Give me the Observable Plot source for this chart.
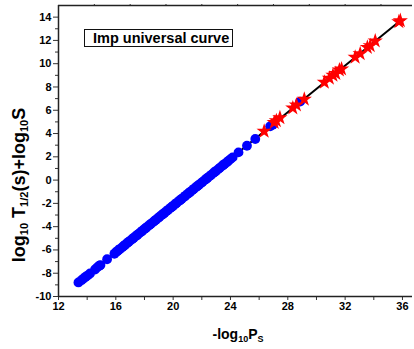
<!DOCTYPE html>
<html><head><meta charset="utf-8">
<script src="https://cdn.jsdelivr.net/npm/d3@7"></script>
<script src="https://cdn.jsdelivr.net/npm/@observablehq/plot@0.6"></script>
<style>
html,body{margin:0;padding:0;background:#fff;}
#chart{position:relative;width:414px;height:349px;font-family:"Liberation Sans",Arial,sans-serif;}
#legend{position:absolute;left:84px;top:29px;width:149px;height:18px;box-sizing:border-box;border:1.3px solid #111;font-weight:bold;font-size:14.5px;line-height:16px;padding-left:8px;white-space:nowrap;color:#000;}
</style>
</head><body>
<div id="chart"><div id="legend">Imp universal curve</div></div>
<script>
// blue circles (-log10 Ps, log10 T1/2 + log10 S)
const blueX = [13.39,13.6,13.75,13.9,14.05,14.2,14.55,14.7,14.85,14.93,
  15.39,
  15.9,16.0,16.1,16.2,16.3,16.45,16.55,16.65,16.8,16.9,17.0,17.15,17.25,17.4,17.5,17.6,17.75,17.85,18.0,18.1,18.2,18.35,18.45,18.6,18.7,18.8,18.95,19.05,19.2,19.3,19.4,19.55,19.65,19.8,19.9,20.0,20.15,20.25,20.4,20.5,20.6,20.75,20.85,21.0,21.1,21.2,21.35,21.45,21.6,21.7,21.8,21.95,22.05,22.2,22.3,22.4,22.55,22.65,22.8,22.9,23.0,23.15,23.25,23.4,23.5,23.6,23.75,23.85,24.0,24.15,
  24.56,25.15,25.73,26.77,26.95,28.86];
const blueY = [-8.79,-8.6,-8.45,-8.3,-8.18,-8.02,-7.68,-7.5,-7.36,-7.3,
  -6.8,
  -6.33,-6.2,-6.12,-6.0,-5.9,-5.77,-5.66,-5.55,-5.41,-5.3,-5.2,-5.06,-4.95,-4.8,-4.71,-4.6,-4.46,-4.35,-4.2,-4.11,-4.0,-3.86,-3.75,-3.61,-3.5,-3.4,-3.26,-3.15,-3.0,-2.91,-2.8,-2.66,-2.55,-2.4,-2.31,-2.2,-2.06,-1.95,-1.8,-1.71,-1.6,-1.46,-1.35,-1.2,-1.11,-1.0,-0.86,-0.75,-0.6,-0.51,-0.4,-0.26,-0.15,0.0,0.09,0.2,0.34,0.45,0.6,0.69,0.8,0.94,1.05,1.2,1.29,1.4,1.54,1.65,1.8,1.95,
  2.38,2.95,3.53,4.62,4.75,6.74];
// red stars
const redX = [26.35,27.05,27.2,27.45,28.35,28.6,29.15,30.55,30.9,31.15,31.35,31.6,31.75,32.7,33.05,33.55,33.75,34.1,35.75,35.85];
const redY = [4.19,4.95,5.1,5.35,6.2,6.45,6.95,8.4,8.75,9.0,9.15,9.45,9.55,10.55,10.85,11.4,11.55,11.95,13.6,13.7];
// fitted line end points
const lineX = [13.39, 35.8];
const lineY = [-8.79, 13.64];
// ticks
const xMajor = [12,16,20,24,28,32,36];
const xMinor = [14,18,22,26,30,34];
const xTop = [14.5,17,19.5,22,24.5,27,29.5,32,34.5];
const yMajor = [-10,-8,-6,-4,-2,0,2,4,6,8,10,12,14];
const yMinor = [-9,-7,-5,-3,-1,1,3,5,7,9,11,13];
const legendText = "Imp universal curve";

const blue = blueX.map((x,i)=>({x, y: blueY[i]}));
const red = redX.map((x,i)=>({x, y: redY[i]}));
const line = lineX.map((x,i)=>({x, y: lineY[i]}));

const font = {fontWeight:"bold", fontSize:11, fill:"#000"};
const none = () => "";
const plot = Plot.plot({
  width: 414, height: 349,
  marginLeft: 58, marginRight: 2, marginTop: 5, marginBottom: 53,
  style: {fontFamily: "'Liberation Sans', Arial, sans-serif", background: "#fff", color: "#000"},
  x: {domain: [12, 36.7]},
  y: {domain: [-10, 15]},
  marks: [
    Plot.axisX({ticks: xMajor, tickSize: 4, tickPadding: 2, tickFormat: d => String(d), label: null, stroke: "#333", ...font}),
    Plot.axisX({ticks: xMinor, tickSize: 4, tickFormat: none, label: null, stroke: "#333"}),
    Plot.axisX({anchor: "top", ticks: xTop, tickSize: 2, tickFormat: none, label: null, stroke: "#333"}),
    Plot.axisY({ticks: yMajor, tickSize: 5, tickPadding: 2, tickFormat: d => String(d), label: null, stroke: "#333", ...font}),
    Plot.axisY({ticks: yMinor, tickSize: 3, tickFormat: none, label: null, stroke: "#333"}),
    Plot.ruleX([12], {stroke: "#222", strokeWidth: 1.5}),
    Plot.ruleY([-10, 15], {stroke: "#222", strokeWidth: 1.5}),
    Plot.line(line, {x: "x", y: "y", stroke: "#000", strokeWidth: 2}),
    Plot.dot(blue, {x: "x", y: "y", r: 4.9, fill: "#0000ff"}),
    Plot.dot(red, {x: "x", y: "y", r: 4.8, symbol: "star", fill: "#ff0000"})
  ]
});
document.getElementById("chart").prepend(plot);
document.getElementById("legend").textContent = legendText;

const svg = d3.select(plot);
const ff = "'Liberation Sans', Arial, sans-serif";
// y title
const yt = svg.append("text").attr("transform", "translate(25,185) rotate(-90)")
  .attr("text-anchor", "middle").attr("font-weight", "bold").attr("font-size", 18)
  .attr("font-family", ff).attr("fill", "#000");
yt.append("tspan").text("log");
yt.append("tspan").attr("font-size", 11).attr("dy", 3).text("10");
yt.append("tspan").attr("dy", -3).text(" T");
yt.append("tspan").attr("font-size", 11).attr("dy", 3).text("1/2");
yt.append("tspan").attr("dy", -3).text("(s)+log");
yt.append("tspan").attr("font-size", 11).attr("dy", 3).text("10");
yt.append("tspan").attr("dy", -3).text("S");
// x title
const xt = svg.append("text").attr("x", 238).attr("y", 339)
  .attr("text-anchor", "middle").attr("font-weight", "bold").attr("font-size", 14)
  .attr("font-family", ff).attr("fill", "#000");
xt.append("tspan").text("-log");
xt.append("tspan").attr("font-size", 9).attr("dy", 3).text("10");
xt.append("tspan").attr("dy", -3).text("P");
xt.append("tspan").attr("font-size", 9).attr("dy", 3).text("S");
</script>
</body></html>
